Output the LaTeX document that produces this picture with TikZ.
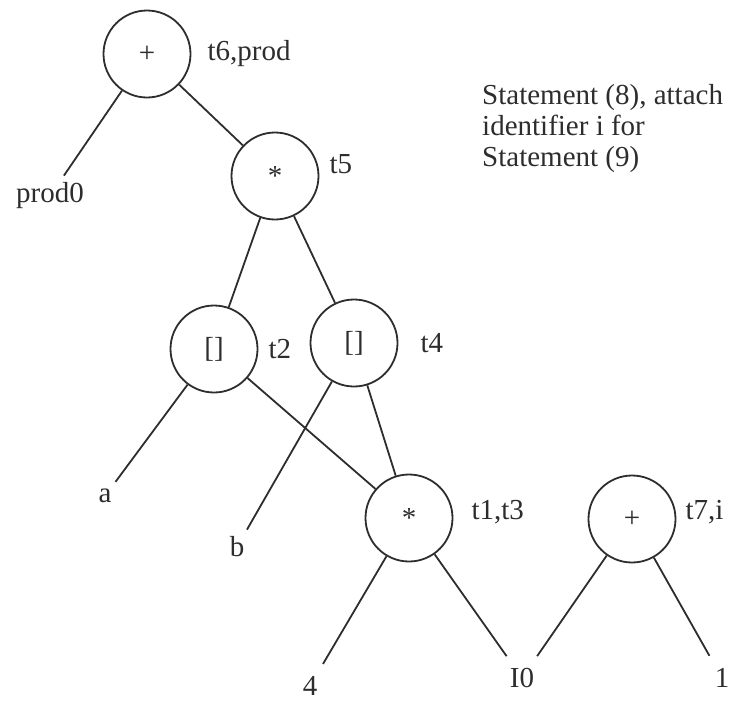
\documentclass[tikz,border=0pt]{standalone}
\usepackage{fontspec}
\setmainfont{Liberation Serif}
\usepackage{tikz}
\usetikzlibrary{positioning}
\definecolor{ink}{RGB}{45,45,45}
\newcommand\treefont{\fontsize{29}{31}\selectfont}

\begin{document}
\begin{tikzpicture}[x=1pt,y=-1pt,
  op/.style={circle,draw=ink,line width=1.8pt,minimum size=87pt,inner sep=0pt,
             font=\treefont,text=ink},
  leaf/.style={inner sep=7pt,font=\treefont,text=ink},
  bottomleaf/.style={leaf,inner sep=2pt},
  tag/.style={inner sep=0pt,font=\treefont,text=ink},
  branch/.style={draw=ink,line width=1.8pt},
  node distance=10pt
]
\useasboundingbox (0,0) rectangle (739,702);

% operator nodes
\node[op] (plus6) at (147,54) {+};
\node[op] (mul5) at (275,176) {*};
\node[op] (idx2) at (214,349) {{[]}};
\node[op] (idx4) at (354,343) {{[]}};
\node[op] (mul1) at (409,518) {*};
\node[op] (plus7) at (632,519) {+};

% attached identifiers
\node[tag,right=16pt of plus6] (tag6) {t6,prod};
\node[tag,right=10pt of mul5,yshift=12pt] (tag5) {t5};
\node[tag,right=10pt of idx2] (tag2) {t2};
\node[tag,right=22pt of idx4] (tag4) {t4};
\node[tag,right=18pt of mul1,yshift=6pt] (tag1) {t1,t3};
\node[tag,right=9pt of plus7,yshift=7pt] (tag7) {t7,i};

% leaves
\node[leaf] (prod0) at (50,196) {prod0};
\node[leaf] (la) at (105,496) {a};
\node[leaf] (lb) at (237,547) {b};
\node[bottomleaf] (l4) at (310,686) {4};
\node[bottomleaf] (lI0) at (522,678) {I0};
\node[bottomleaf] (l1) at (722,678) {1};

\node[tag,anchor=north west,align=left] (note) at (482,84)
  {Statement (8), attach\\identifier i for\\Statement (9)};

\draw[branch] (plus6) -- (prod0);
\draw[branch] (plus6) -- (mul5);
\draw[branch] (mul5) -- (idx2);
\draw[branch] (mul5) -- (idx4);
\draw[branch] (idx2) -- (la);
\draw[branch] (idx2) -- (mul1);
\draw[branch] (idx4) -- (lb);
\draw[branch] (idx4) -- (mul1);
\draw[branch,shorten >=12pt] (mul1) -- (l4);
\draw[branch,shorten >=12pt] (mul1) -- (lI0);
\draw[branch,shorten >=12pt] (plus7) -- (lI0);
\draw[branch,shorten >=12pt] (plus7) -- (l1);
\end{tikzpicture}
\end{document}
